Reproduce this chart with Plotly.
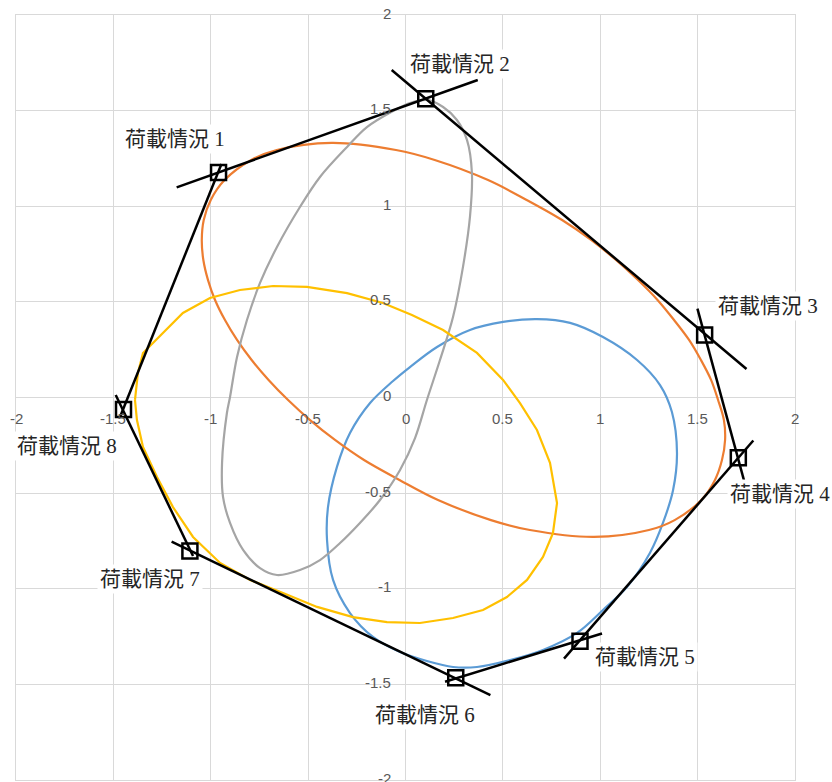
import plotly.graph_objects as go

# ---- load cases: corner points of the envelope ----
case_labels = ["荷載情況 1", "荷載情況 2", "荷載情況 3", "荷載情況 4",
               "荷載情況 5", "荷載情況 6", "荷載情況 7", "荷載情況 8"]
vertex_x = [-0.960, 0.104, 1.536, 1.709, 0.896, 0.258, -1.107, -1.448]
vertex_y = [1.177, 1.562, 0.327, -0.315, -1.275, -1.466, -0.803, -0.063]

# envelope edges, each drawn a little past both corners
edge_start_x = [-1.175, -0.071, 1.499, 1.786, 1.009, 0.436, -1.091, -1.466]
edge_start_y = [1.099, 1.712, 0.465, -0.225, -1.234, -1.556, -0.829, -0.102]
edge_end_x = [0.371, 1.751, 1.743, 0.814, 0.203, -1.201, -1.488, -0.945]
edge_end_y = [1.660, 0.149, -0.452, -1.365, -1.486, -0.754, 0.013, 1.221]

# label anchor points
label_x = [-1.184, 0.280, 1.861, 1.923, 1.230, 0.100, -1.312, -1.738]
label_y = [1.352, 1.744, 0.478, -0.505, -1.357, -1.660, -0.949, -0.254]

# ---- closed curves ----
blue_x = [0.675, 0.845, 1.014, 1.189, 1.307, 1.368, 1.394, 1.374, 1.322, 1.255,
          1.137, 1.014, 0.881, 0.706, 0.537, 0.367, 0.244, 0.110, -0.028, -0.167,
          -0.285, -0.372, -0.403, -0.398, -0.352, -0.285, -0.182, -0.064, 0.023,
          0.162, 0.331, 0.501, 0.675]
blue_y = [0.410, 0.390, 0.316, 0.196, 0.065, -0.076, -0.290, -0.484, -0.656, -0.813,
          -0.991, -1.111, -1.231, -1.320, -1.373, -1.409, -1.409, -1.378, -1.331, -1.252,
          -1.127, -0.954, -0.745, -0.573, -0.363, -0.186, -0.029, 0.086, 0.159,
          0.264, 0.353, 0.395, 0.410]

orange_x = [-0.379, -0.049, 0.150, 0.424, 0.622, 0.804, 0.953, 1.081, 1.194, 1.294,
            1.379, 1.456, 1.517, 1.569, 1.605, 1.635, 1.641, 1.625, 1.589, 1.519,
            1.382, 1.250, 0.968, 0.639, 0.439, 0.167, -0.031, -0.213, -0.362, -0.490,
            -0.603, -0.703, -0.790, -0.865, -0.927, -0.978, -1.014, -1.038, -1.046,
            -1.036, -1.000, -0.929, -0.792, -0.661, -0.379]
orange_y = [1.331, 1.294, 1.242, 1.137, 1.033, 0.928, 0.824, 0.719, 0.614, 0.510,
            0.405, 0.301, 0.196, 0.092, -0.013, -0.118, -0.222, -0.327, -0.431, -0.536,
            -0.641, -0.693, -0.729, -0.693, -0.641, -0.536, -0.431, -0.327, -0.222, -0.118,
            -0.013, 0.092, 0.196, 0.301, 0.405, 0.510, 0.614, 0.719, 0.824,
            0.928, 1.033, 1.137, 1.242, 1.294, 1.331]

gray_x = [0.110, 0.193, 0.264, 0.316, 0.341, 0.331, 0.295, 0.244, 0.177, 0.110,
          0.049, -0.028, -0.131, -0.234, -0.336, -0.439, -0.542, -0.660, -0.747, -0.834,
          -0.901, -0.937, -0.942, -0.917, -0.901, -0.865, -0.814, -0.747, -0.660, -0.542,
          -0.439, -0.300, -0.198, -0.064, 0.023, 0.110]
gray_y = [1.556, 1.519, 1.451, 1.346, 1.174, 0.944, 0.682, 0.421, 0.196, -0.013,
          -0.212, -0.379, -0.536, -0.656, -0.761, -0.850, -0.902, -0.928, -0.892, -0.797,
          -0.656, -0.520, -0.342, -0.081, 0.003, 0.212, 0.405, 0.599, 0.787, 0.996,
          1.153, 1.310, 1.414, 1.498, 1.540, 1.556]

yellow_x = [-1.389, -1.374, -1.348, -1.245, -1.143, -1.004, -0.850, -0.680, -0.506, -0.300,
            -0.116, 0.033, 0.193, 0.367, 0.501, 0.588, 0.675, 0.742, 0.778, 0.757,
            0.706, 0.624, 0.521, 0.398, 0.244, 0.074, -0.095, -0.270, -0.454, -0.629,
            -0.798, -0.952, -1.091, -1.194, -1.276, -1.348, -1.379, -1.389]
yellow_y = [-0.013, 0.128, 0.233, 0.337, 0.442, 0.520, 0.562, 0.583, 0.578, 0.546,
            0.494, 0.431, 0.353, 0.233, 0.092, -0.029, -0.170, -0.342, -0.552, -0.709,
            -0.834, -0.954, -1.043, -1.111, -1.153, -1.179, -1.174, -1.148, -1.095, -1.022,
            -0.954, -0.865, -0.729, -0.573, -0.416, -0.259, -0.118, -0.013]

# axis ticks
tick_values = [-2, -1.5, -1, -0.5, 0, 0.5, 1, 1.5, 2]
tick_text = ["-2", "-1.5", "-1", "-0.5", "0", "0.5", "1", "1.5", "2"]

GRID = "#d9d9d9"
TICK_COLOR = "#595959"
TICK_FONT = dict(family="Liberation Sans, Arial", size=15, color=TICK_COLOR)

fig = go.Figure()

for xs, ys, color, shape in [
    (blue_x, blue_y, "#5b9bd5", "spline"),
    (orange_x, orange_y, "#ed7d31", "spline"),
    (gray_x, gray_y, "#a5a5a5", "spline"),
    (yellow_x, yellow_y, "#ffc000", "linear"),
]:
    fig.add_trace(go.Scatter(x=xs, y=ys, mode="lines",
                             line=dict(color=color, width=2.2, shape=shape, smoothing=1.0),
                             hoverinfo="skip", showlegend=False))

# envelope edges as separate segments
ex, ey = [], []
for x0, y0, x1, y1 in zip(edge_start_x, edge_start_y, edge_end_x, edge_end_y):
    ex += [x0, x1, None]
    ey += [y0, y1, None]
fig.add_trace(go.Scatter(x=ex, y=ey, mode="lines",
                         line=dict(color="black", width=2.5),
                         hoverinfo="skip", showlegend=False))

# corner markers
fig.add_trace(go.Scatter(x=vertex_x, y=vertex_y, mode="markers",
                         marker=dict(symbol="square-open", size=15,
                                     line=dict(color="black", width=2.5), color="black"),
                         text=case_labels, hoverinfo="text", showlegend=False))

annotations = []
for v, t in zip(tick_values, tick_text):
    annotations.append(dict(x=v, y=0, xref="x", yref="y", text=t, showarrow=False,
                            yshift=-21, xanchor="center", yanchor="middle", font=TICK_FONT))
    annotations.append(dict(x=0, y=v, xref="x", yref="y", text=t, showarrow=False,
                            xshift=-13, yshift=2, xanchor="right", yanchor="middle",
                            font=TICK_FONT))

for lx, ly, t in zip(label_x, label_y, case_labels):
    annotations.append(dict(x=lx, y=ly, xref="x", yref="y", text=t, showarrow=False,
                            xanchor="center", yanchor="middle", bgcolor="white", borderpad=2,
                            font=dict(family="Liberation Serif, Noto Sans CJK TC", size=21,
                                      color="#262626")))

axis_common = dict(range=[-2, 2], tickvals=tick_values, showticklabels=False,
                   showgrid=True, gridcolor=GRID, gridwidth=1,
                   zeroline=True, zerolinecolor=GRID, zerolinewidth=1,
                   showline=True, linecolor=GRID, linewidth=1, mirror=True,
                   ticks="", fixedrange=True)

fig.update_layout(
    width=832, height=782,
    margin=dict(l=16, r=37, t=15, b=2),
    paper_bgcolor="white", plot_bgcolor="white",
    xaxis=axis_common,
    yaxis=axis_common,
    annotations=annotations,
    showlegend=False,
)

fig.write_html("out.html")
